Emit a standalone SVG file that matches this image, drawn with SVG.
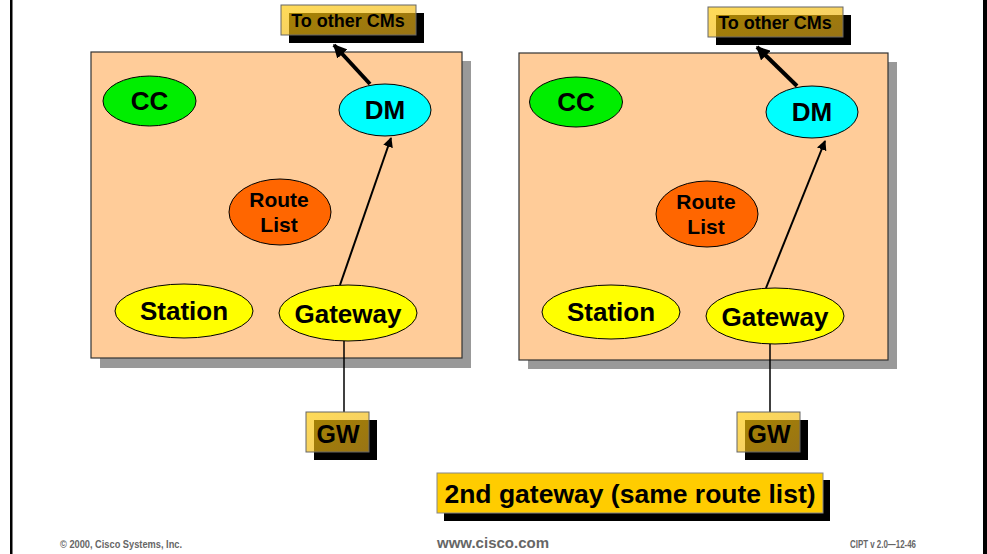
<svg xmlns="http://www.w3.org/2000/svg" width="987" height="554" viewBox="0 0 987 554">
<defs>
<style>
.box{fill:#FFCC99;stroke:#333;stroke-width:1.2}
.shadow{fill:#999999}
.el{stroke:#000;stroke-width:1}
.t{font-family:"Liberation Sans",Arial,sans-serif;font-weight:bold;fill:#000;text-anchor:middle}
.big{font-size:26px}
.mid{font-size:21px}
.lbl{fill:url(#gold);fill-opacity:0.66;stroke:#666;stroke-width:1}
.foot{font-family:"Liberation Sans",Arial,sans-serif;font-weight:bold;fill:#666}
.thin{stroke:#000;stroke-width:2;fill:none}
.thick{stroke:#000;stroke-width:4;fill:none}
</style>
<linearGradient id="gold" x1="0" y1="0" x2="1" y2="1">
<stop offset="0" stop-color="#FFC800"/>
<stop offset="1" stop-color="#E8B020"/>
</linearGradient>
<marker id="ah" viewBox="0 0 10 10" refX="9" refY="5" markerWidth="5" markerHeight="5" orient="auto" markerUnits="strokeWidth">
<path d="M0,0 L10,5 L0,10 z" fill="#000"/>
</marker>
<marker id="ahb" viewBox="0 0 10 10" refX="9" refY="5" markerWidth="3.4" markerHeight="3.4" orient="auto" markerUnits="strokeWidth">
<path d="M0,0 L10,5 L0,10 z" fill="#000"/>
</marker>
</defs>
<rect width="987" height="554" fill="#fff"/>
<rect x="10" y="0" width="2.5" height="554" fill="#000"/>
<rect x="983" y="0" width="4" height="554" fill="#000"/>

<g id="panel-left">
<rect class="shadow" x="100" y="61" width="371" height="307"/>
<rect class="box" x="91" y="52" width="371" height="306"/>
</g>
<g id="panel-right">
<rect class="shadow" x="528" y="62" width="369" height="307"/>
<rect class="box" x="519" y="53" width="369" height="307"/>
</g>

<g id="connectors">
<line class="thin" x1="340" y1="285" x2="391" y2="138" marker-end="url(#ah)"/>
<line class="thick" x1="370" y1="84" x2="334" y2="45" marker-end="url(#ahb)"/>
<line x1="344" y1="341" x2="344" y2="412" stroke="#000" stroke-width="1.5"/>
<line class="thin" x1="766" y1="288" x2="825" y2="141" marker-end="url(#ah)"/>
<line class="thick" x1="797" y1="86" x2="757" y2="47" marker-end="url(#ahb)"/>
<line x1="770" y1="344" x2="770" y2="412" stroke="#000" stroke-width="1.5"/>
</g>

<g id="cms-left">
<rect x="289" y="13" width="135" height="30" fill="#000"/>
<rect class="lbl" x="281" y="5" width="135" height="30"/>
<text class="t" x="348" y="27" font-size="18">To other CMs</text>
</g>
<g id="cms-right">
<rect x="716" y="15" width="135" height="30" fill="#000"/>
<rect class="lbl" x="708" y="7" width="135" height="30"/>
<text class="t" x="775" y="29" font-size="18">To other CMs</text>
</g>

<g id="cc-left"><ellipse class="el" cx="149.5" cy="101" rx="46.5" ry="25" fill="#00EE00"/><text class="t big" x="149.5" y="110">CC</text></g>
<g id="dm-left"><ellipse class="el" cx="385" cy="110" rx="46" ry="26" fill="#00FFFF"/><text class="t big" x="385" y="119">DM</text></g>
<g id="rl-left"><ellipse class="el" cx="280" cy="212" rx="51" ry="33" fill="#FF6600"/><text class="t mid" x="279" y="207">Route</text><text class="t mid" x="279" y="232">List</text></g>
<g id="station-left"><ellipse class="el" cx="184" cy="311" rx="69" ry="27" fill="#FFFF00"/><text class="t big" x="184" y="320">Station</text></g>
<g id="gateway-left"><ellipse class="el" cx="348" cy="313" rx="69" ry="28" fill="#FFFF00"/><text class="t big" x="348" y="323">Gateway</text></g>

<g id="cc-right"><ellipse class="el" cx="576" cy="102" rx="46.5" ry="25" fill="#00EE00"/><text class="t big" x="576" y="111">CC</text></g>
<g id="dm-right"><ellipse class="el" cx="812" cy="112" rx="46" ry="26" fill="#00FFFF"/><text class="t big" x="812" y="121">DM</text></g>
<g id="rl-right"><ellipse class="el" cx="707" cy="214" rx="51" ry="33" fill="#FF6600"/><text class="t mid" x="706" y="209">Route</text><text class="t mid" x="706" y="234">List</text></g>
<g id="station-right"><ellipse class="el" cx="611" cy="312" rx="69" ry="27" fill="#FFFF00"/><text class="t big" x="611" y="321">Station</text></g>
<g id="gateway-right"><ellipse class="el" cx="775" cy="316" rx="69" ry="28" fill="#FFFF00"/><text class="t big" x="775" y="326">Gateway</text></g>

<g id="gw-left">
<rect x="314" y="420" width="63" height="40" fill="#000"/>
<rect class="lbl" x="306" y="412" width="63" height="40"/>
<text class="t" x="338" y="443" font-size="25">GW</text>
</g>
<g id="gw-right">
<rect x="745" y="420" width="63" height="40" fill="#000"/>
<rect class="lbl" x="737" y="412" width="63" height="40"/>
<text class="t" x="769" y="443" font-size="25">GW</text>
</g>

<g id="caption">
<rect x="444" y="480" width="386" height="41" fill="#000"/>
<rect x="437" y="473" width="386" height="40" fill="#FFCC00" stroke="#888" stroke-width="1"/>
<text class="t" x="630" y="503" font-size="26.5">2nd gateway (same route list)</text>
</g>

<g id="footer">
<text class="foot" x="60" y="548" font-size="10" textLength="122" lengthAdjust="spacingAndGlyphs">© 2000, Cisco Systems, Inc.</text>
<text class="foot" x="493" y="548" font-size="15.5" text-anchor="middle" textLength="112" lengthAdjust="spacingAndGlyphs">www.cisco.com</text>
<text class="foot" x="850" y="548" font-size="10" textLength="66" lengthAdjust="spacingAndGlyphs">CIPT v 2.0—12-46</text>
</g>
</svg>
